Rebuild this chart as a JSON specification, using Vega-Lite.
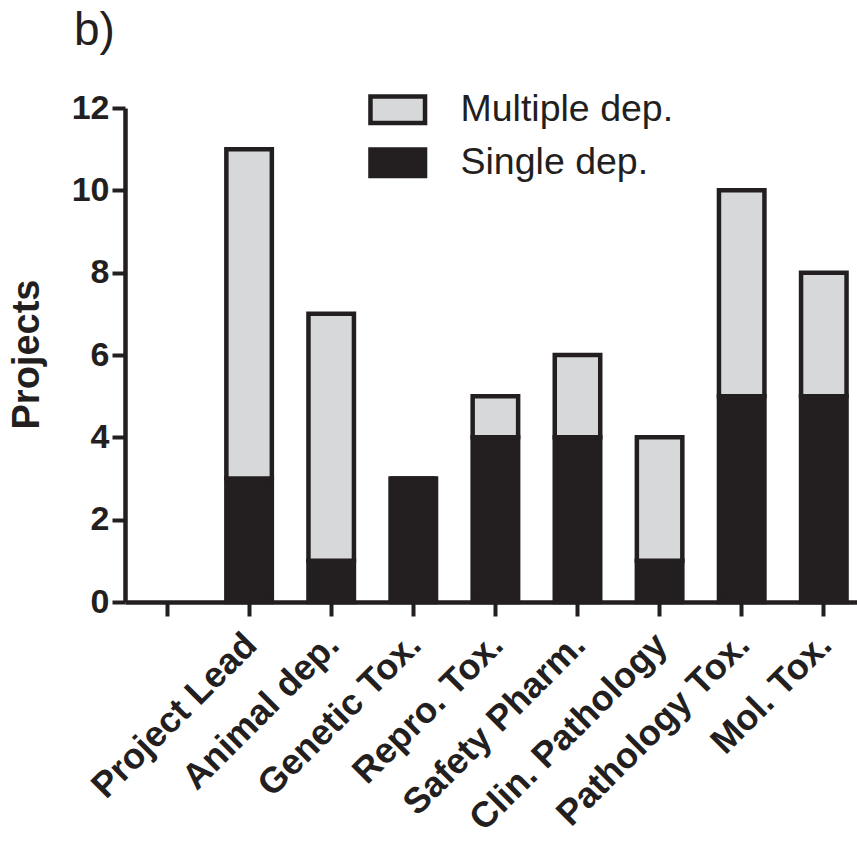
{
  "$schema": "https://vega.github.io/schema/vega-lite/v6.json",
  "autosize": {"type": "none"},
  "padding": {"left": 125, "top": 108, "right": 0, "bottom": 241},
  "width": 732,
  "height": 494,
  "background": "white",
  "config": {
    "font": "Liberation Sans",
    "view": {"stroke": null}
  },
  "title": {
    "text": "b)",
    "anchor": "start",
    "frame": "group",
    "fontSize": 46,
    "fontWeight": "normal",
    "font": "Liberation Sans",
    "color": "#231f20",
    "baseline": "alphabetic",
    "dx": -51,
    "offset": 0
  },
  "data": {
    "values": [
      {"dept": "Project Lead", "series": "Single dep.", "projects": 3},
      {"dept": "Project Lead", "series": "Multiple dep.", "projects": 8},
      {"dept": "Animal dep.", "series": "Single dep.", "projects": 1},
      {"dept": "Animal dep.", "series": "Multiple dep.", "projects": 6},
      {"dept": "Genetic Tox.", "series": "Single dep.", "projects": 3},
      {"dept": "Genetic Tox.", "series": "Multiple dep.", "projects": 0},
      {"dept": "Repro. Tox.", "series": "Single dep.", "projects": 4},
      {"dept": "Repro. Tox.", "series": "Multiple dep.", "projects": 1},
      {"dept": "Safety Pharm.", "series": "Single dep.", "projects": 4},
      {"dept": "Safety Pharm.", "series": "Multiple dep.", "projects": 2},
      {"dept": "Clin. Pathology", "series": "Single dep.", "projects": 1},
      {"dept": "Clin. Pathology", "series": "Multiple dep.", "projects": 3},
      {"dept": "Pathology Tox.", "series": "Single dep.", "projects": 5},
      {"dept": "Pathology Tox.", "series": "Multiple dep.", "projects": 5},
      {"dept": "Mol. Tox.", "series": "Single dep.", "projects": 5},
      {"dept": "Mol. Tox.", "series": "Multiple dep.", "projects": 3}
    ]
  },
  "mark": {"type": "bar", "stroke": "#231f20", "strokeWidth": 4.5},
  "encoding": {
    "x": {
      "field": "dept",
      "type": "nominal",
      "sort": null,
      "scale": {
        "domain": ["", "Project Lead", "Animal dep.", "Genetic Tox.", "Repro. Tox.", "Safety Pharm.", "Clin. Pathology", "Pathology Tox.", "Mol. Tox."],
        "paddingInner": 0.446,
        "paddingOuter": 0.181,
        "align": 0.648
      },
      "axis": {
        "title": null,
        "domainColor": "#231f20",
        "domainWidth": 4.5,
        "tickColor": "#231f20",
        "tickWidth": 4,
        "tickSize": 14,
        "labelAngle": -45,
        "labelAlign": "right",
        "labelBaseline": "middle",
        "labelFont": "Liberation Sans",
        "labelFontWeight": "bold",
        "labelFontSize": 36,
        "labelColor": "#231f20",
        "labelPadding": 23,
        "labelOffset": 2,
        "labelLimit": 0,
        "labelOverlap": false
      }
    },
    "y": {
      "field": "projects",
      "type": "quantitative",
      "stack": "zero",
      "scale": {"domain": [0, 12], "nice": false},
      "axis": {
        "title": "Projects",
        "titleFont": "Liberation Sans",
        "titleFontSize": 38,
        "titleFontWeight": "bold",
        "titleColor": "#231f20",
        "titleAngle": -90,
        "titleAlign": "center",
        "titleBaseline": "middle",
        "titleX": -98,
        "titleY": 246,
        "values": [0, 2, 4, 6, 8, 10, 12],
        "grid": false,
        "domainColor": "#231f20",
        "domainWidth": 4.5,
        "tickColor": "#231f20",
        "tickWidth": 4,
        "tickSize": 13,
        "labelFont": "Liberation Sans",
        "labelFontWeight": "bold",
        "labelFontSize": 34,
        "labelColor": "#231f20",
        "labelPadding": 3
      }
    },
    "color": {
      "field": "series",
      "type": "nominal",
      "scale": {
        "domain": ["Multiple dep.", "Single dep."],
        "range": ["#d7d8da", "#231f20"]
      },
      "legend": {
        "title": null,
        "orient": "none",
        "legendX": 254,
        "legendY": -17,
        "symbolType": "M-1.85,-0.9H1.85V0.9H-1.85Z",
        "symbolSize": 870,
        "symbolStrokeColor": "#231f20",
        "symbolStrokeWidth": 4.5,
        "symbolOpacity": 1,
        "labelFont": "Liberation Sans",
        "labelFontSize": 37.5,
        "labelColor": "#231f20",
        "labelOffset": 44,
        "labelLimit": 0,
        "rowPadding": 7,
        "padding": 0
      }
    },
    "order": {"field": "series", "sort": "descending"}
  }
}
